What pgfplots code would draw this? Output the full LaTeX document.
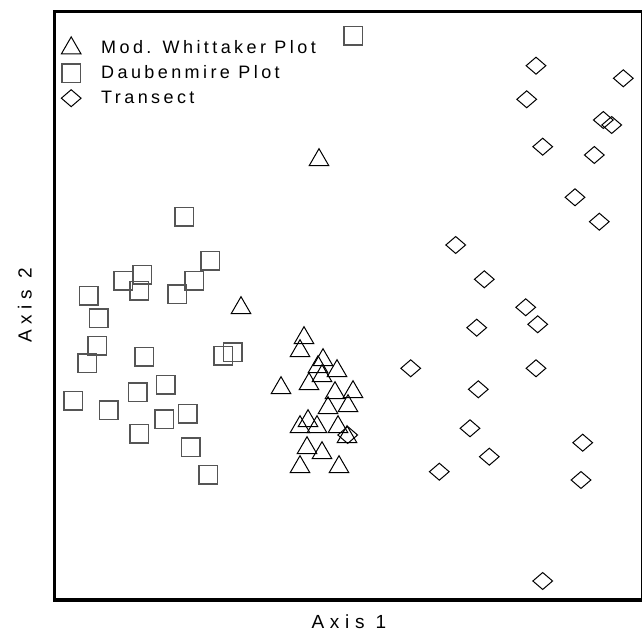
\documentclass[border=0pt]{standalone}
\usepackage{pgfplots}
\pgfplotsset{compat=1.18}
\usepackage{fontspec}
\setmainfont{Liberation Sans}
\newfontfamily\legfont[LetterSpace=19]{Liberation Sans}
\newfontfamily\labfont[LetterSpace=30]{Liberation Sans}
\definecolor{sqgray}{RGB}{85,85,85}
\pgfdeclareplotmark{wdiamond}{%
  \pgfpathmoveto{\pgfqpoint{0pt}{.86\pgfplotmarksize}}%
  \pgfpathlineto{\pgfqpoint{\pgfplotmarksize}{0pt}}%
  \pgfpathlineto{\pgfqpoint{0pt}{-.86\pgfplotmarksize}}%
  \pgfpathlineto{\pgfqpoint{-\pgfplotmarksize}{0pt}}%
  \pgfpathclose\pgfusepathqstroke}
\begin{document}
\begin{tikzpicture}
\begin{axis}[
  at={(0,0)}, anchor=south west,
  scale only axis, width=588.3bp, height=588.7bp,
  xmin=54.7, xmax=643, ymin=-600, ymax=-11.3,
  axis line style={line width=3.5bp, black},
  ticks=none,
  xlabel={Axis 1}, ylabel={Axis 2},
  xlabel style={font=\labfont\fontsize{19bp}{21bp}\selectfont, at={(axis description cs:0.5,0)}, anchor=base, yshift=-28bp},
  ylabel style={font=\labfont\fontsize{19bp}{21bp}\selectfont, at={([xshift=-23bp]axis description cs:0,0.5)}, anchor=base},
  legend image code/.code={%
    \pgfinterruptboundingbox
    \draw[#1,only marks] plot coordinates {(8.5bp,0bp)};
    \endpgfinterruptboundingbox
    \path[draw=none,fill=none] (0bp,-4bp) rectangle (38.5bp,4bp);},
  legend style={draw=none, fill=none, inner sep=0pt,
    at={(axis description cs:0,1)}, anchor=north west, xshift=7.8bp, yshift=-31.7bp,
    row sep=15bp, column sep=0bp,
    nodes={inner sep=0pt, text height=10bp, text depth=0pt, font=\legfont\fontsize{18bp}{20bp}\selectfont},
    cells={anchor=west}},
]
% Mod. Whittaker Plot
\addplot[only marks, mark=triangle, mark size=11.3bp, mark options={line width=1bp, draw=black}] coordinates {
(304,-338) (300,-351) (323,-360) (318,-367) (337,-371) (322,-376) (309,-384) (281,-388)
(335,-393) (353,-392) (348,-406) (328,-408) (308,-421) (300,-427) (317,-427) (338,-427)
(347,-437) (307,-448) (322,-453) (300,-467) (339,-467) (241,-308) (319,-160)
};
\addlegendentry{Mod. Whittaker Plot}
% Daubenmire Plot
\addplot[only marks, mark=square, mark size=9.25bp, mark options={line width=1.5bp, draw=sqgray}] coordinates {
(184.3,-216.7) (210,-260.7) (142.3,-275) (123,-281) (194,-281) (139,-291) (177,-294.3) (89,-296)
(99,-318.3) (97.3,-345.7) (87.3,-363.3) (144,-357) (223.3,-355.7) (232.7,-352.3) (165.7,-384.7)
(137.7,-392.3) (73.3,-400.7) (108.7,-410.3) (164.3,-419.3) (187.7,-413.7) (139.3,-433.7)
(190.7,-447.3) (208.3,-474.7) (353.3,-36)
};
\addlegendentry{Daubenmire Plot}
% Transect
\addplot[only marks, mark=wdiamond, mark size=9.85bp, mark options={line width=1bp, draw=black}] coordinates {
(536,-65.7) (623.3,-78.3) (526.7,-99.3) (603.3,-120) (611.7,-125) (542.7,-146.7) (594.3,-155)
(575,-197.3) (599.3,-221.7) (455.7,-245) (484.3,-279.3) (525.7,-307.3) (537.7,-324.3)
(476.7,-327.7) (410.7,-368.3) (536,-368.3) (478.3,-389.3) (470,-428.3) (582.7,-442.7)
(489.3,-456.7) (439.3,-471.7) (581,-480) (542.7,-581) (347.7,-435)
};
\addlegendentry{Transect}
\end{axis}
\pgfresetboundingbox
\path[use as bounding box] (-54.7bp,-35bp) rectangle (587.3bp,600bp);
\end{tikzpicture}
\end{document}
